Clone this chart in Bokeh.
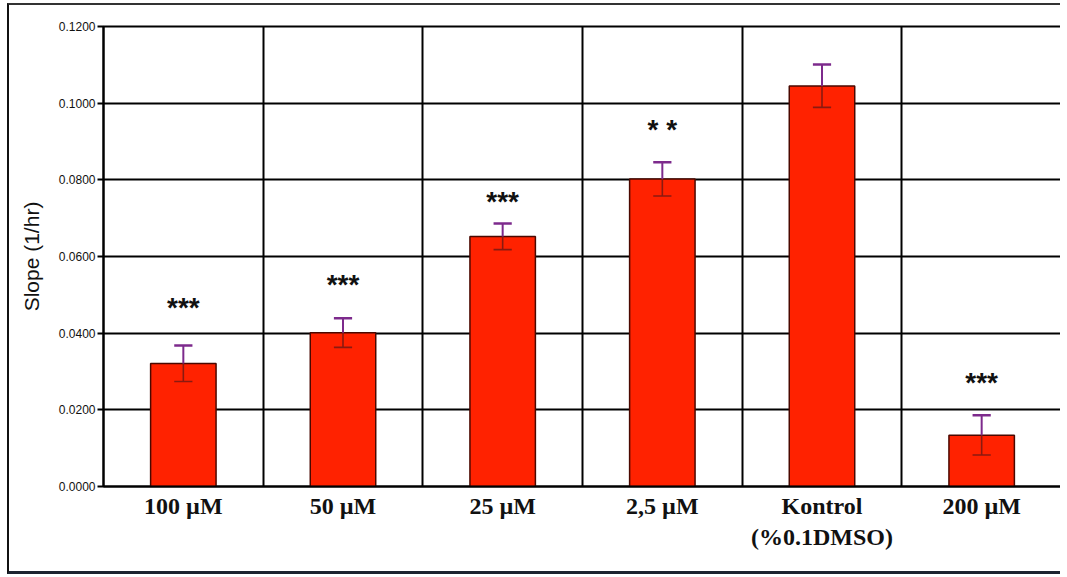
from bokeh.plotting import figure
from bokeh.models import (FixedTicker, Grid, Range1d, ColumnDataSource,
                          PrintfTickFormatter)
from bokeh.core.properties import value
from bokeh.embed import file_html
from bokeh.resources import INLINE

categories = ["100 µM", "50 µM", "25 µM", "2,5 µM", "Kontrol\n(%0.1DMSO)", "200 µM"]
slopes = [0.0321, 0.0401, 0.0652, 0.0802, 0.1045, 0.0134]
errors = [0.0047, 0.0038, 0.0034, 0.0044, 0.0056, 0.0052]
sig_labels = ["***", "***", "***", "* *", "", "***"]
sig_heights = [0.0467, 0.0527, 0.0744, 0.0931, 0.0, 0.0271]
y_ticks = [0.0, 0.02, 0.04, 0.06, 0.08, 0.10, 0.12]

n = len(categories)
xs = list(range(n))
upper = [s + e for s, e in zip(slopes, errors)]
lower = [s - e for s, e in zip(slopes, errors)]
cap = 0.057

src = ColumnDataSource(dict(
    x=xs, top=slopes, up=upper, lo=lower,
    cl=[x - cap for x in xs], cr=[x + cap for x in xs],
    sig=sig_labels, sy=sig_heights,
))

p = figure(width=1053, height=571, output_backend="svg", toolbar_location=None,
           x_range=Range1d(-0.5, n - 0.5), y_range=Range1d(0, 0.12),
           min_border_left=94, min_border_right=1, min_border_top=21,
           min_border_bottom=90)

p.styles = {"border-left": "2px solid #111", "border-top": "2px solid #333",
            "border-bottom": "3px solid #1c2430", "margin-left": "7px",
            "margin-top": "3px"}

p.background_fill_color = "white"
p.outline_line_color = "black"
p.outline_line_width = 2

# grids
p.xgrid.visible = False
p.ygrid.grid_line_color = "black"
p.ygrid.grid_line_width = 2
p.ygrid.ticker = FixedTicker(ticks=y_ticks)
vgrid = Grid(dimension=0, ticker=FixedTicker(ticks=[x - 0.5 for x in xs] + [n - 0.5]),
             grid_line_color="black", grid_line_width=2)
p.add_layout(vgrid)

# bars
p.vbar(x="x", top="top", bottom=0, width=0.41, source=src,
       fill_color="#ff2200", line_color="#4a0800", line_width=1.5)

# error bars: lower half (seen through bar), upper half purple
p.segment(x0="x", y0="lo", x1="x", y1="top", source=src,
          line_color="#8a1a10", line_width=1.6)
p.segment(x0="cl", y0="lo", x1="cr", y1="lo", source=src,
          line_color="#8a1a10", line_width=1.6)
p.segment(x0="x", y0="top", x1="x", y1="up", source=src,
          line_color="#7d2a8c", line_width=2)
p.segment(x0="cl", y0="up", x1="cr", y1="up", source=src,
          line_color="#7d2a8c", line_width=2.5)

# significance marks
p.text(x="x", y="sy", text="sig", source=src, text_align="center",
       text_baseline="middle", text_font=value("Liberation Sans"),
       text_font_style="bold", text_font_size="28px", text_color="#111")

# axes
xa = p.xaxis[0]
xa.ticker = FixedTicker(ticks=xs)
xa.major_label_overrides = {x: c for x, c in zip(xs, categories)}
xa.major_label_text_font = "Liberation Serif"
xa.major_label_text_font_style = "bold"
xa.major_label_text_font_size = "24px"
xa.major_label_text_color = "#111"
xa.major_tick_out = 0
xa.major_tick_in = 0
xa.minor_tick_out = 0
xa.minor_tick_in = 0
xa.major_label_standoff = 6
xa.axis_line_color = "black"
xa.axis_line_width = 2

ya = p.yaxis[0]
ya.ticker = FixedTicker(ticks=y_ticks)
ya.formatter = PrintfTickFormatter(format="%.4f")
ya.major_label_text_font = "Liberation Sans"
ya.major_label_text_font_size = "12px"
ya.major_label_text_color = "#111"
ya.major_tick_out = 6
ya.major_tick_in = 0
ya.major_tick_line_width = 2
ya.minor_tick_out = 0
ya.minor_tick_in = 0
ya.major_label_standoff = 2
ya.axis_line_color = "black"
ya.axis_line_width = 2
ya.axis_label = "Slope (1/hr)"
ya.axis_label_text_font = "Liberation Sans"
ya.axis_label_text_font_style = "normal"
ya.axis_label_text_font_size = "21px"
ya.axis_label_text_color = "#111"
ya.axis_label_standoff = 13

open("out.html", "w").write(file_html(p, INLINE))
